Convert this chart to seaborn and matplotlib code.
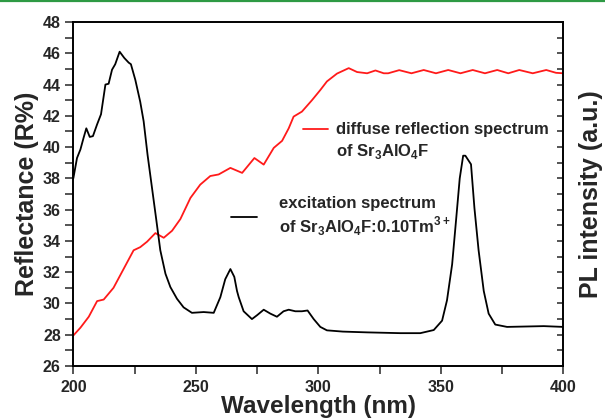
import pandas as pd
import matplotlib.pyplot as plt
import seaborn as sns
from matplotlib.lines import Line2D
from matplotlib.ticker import MultipleLocator, NullFormatter

# diffuse reflection spectrum of Sr3AlO4F (left axis, R%)
refl_nm = [200, 202.9, 206.3, 209.7, 212.4, 216.4, 220.5, 224.6, 227.3, 230.1,
           233.5, 236.9, 240.3, 243.7, 247.8, 251.8, 255.9, 259.3, 264.1, 268.9,
           273.9, 277.7, 281.8, 285.2, 287.9, 289.9, 293.3, 297.4, 300.8, 303.5,
           307.6, 312.4, 315.8, 319.9, 323.3, 326.7, 328.5, 333, 338, 343,
           348, 353, 358, 363, 368, 373, 377.5, 382, 387.5, 393, 397, 400]
refl_val = [27.95, 28.45, 29.15, 30.15, 30.25, 31.0, 32.2, 33.4, 33.6, 33.95,
            34.5, 34.2, 34.65, 35.4, 36.75, 37.6, 38.15, 38.25, 38.67, 38.35,
            39.3, 38.88, 39.95, 40.4, 41.2, 41.95, 42.27, 43.0, 43.65, 44.2,
            44.7, 45.05, 44.8, 44.72, 44.9, 44.72, 44.72, 44.92, 44.72, 44.93,
            44.72, 44.93, 44.72, 44.93, 44.72, 44.93, 44.72, 44.93, 44.72, 44.93, 44.75, 44.72]

# excitation spectrum of Sr3AlO4F:0.10Tm3+ (right axis, a.u.)
exc_nm = [200, 201.5, 202.9, 204.2, 205.3, 206.7, 208, 209.7, 211.3, 213.1,
          214.4, 215.8, 217.1, 218.9, 220.8, 222.6, 223.5, 225.3, 227.3, 228.7,
          230.3, 232.1, 233.9, 235.5, 237.6, 239.6, 242.3, 245, 248.4, 253.2,
          257.3, 260, 262, 264.1, 265.7, 266.8, 267.5, 269.5, 272.9, 275,
          277.7, 280.4, 283.1, 285.8, 287.9, 290.6, 293.3, 295.6, 298.1, 300.8,
          303.5, 310, 320, 333.5, 341.6, 347.1, 350.5, 352.5, 354.6, 356.3,
          357.7, 359.1, 360, 362.3, 363.7, 365.4, 367.5, 369.5, 372.2, 377,
          392, 400]
exc_val = [38.0, 39.3, 39.85, 40.6, 41.2, 40.65, 40.7, 41.45, 42.1, 44.0,
           44.05, 44.95, 45.3, 46.1, 45.7, 45.4, 45.3, 44.3, 42.9, 41.65,
           39.5, 37.4, 35.3, 33.4, 31.9, 31.05, 30.3, 29.75, 29.4, 29.45,
           29.4, 30.4, 31.55, 32.2, 31.7, 30.8, 30.4, 29.5, 29.0, 29.25,
           29.6, 29.35, 29.15, 29.5, 29.6, 29.5, 29.5, 29.55, 29.0, 28.5,
           28.28, 28.2, 28.15, 28.1, 28.1, 28.3, 28.9, 30.2, 32.5, 35.5,
           38.0, 39.45, 39.45, 38.9, 36.1, 33.4, 30.8, 29.35, 28.65, 28.5,
           28.55, 28.5]

refl = pd.DataFrame({'nm': refl_nm, 'R': refl_val})
exc = pd.DataFrame({'nm': exc_nm, 'I': exc_val})

sns.set_style('ticks')
plt.rcParams['font.family'] = ['Liberation Sans', 'DejaVu Sans']
plt.rcParams['font.weight'] = 'bold'
plt.rcParams['mathtext.fontset'] = 'custom'
plt.rcParams['mathtext.rm'] = 'Liberation Sans:bold'
plt.rcParams['mathtext.bf'] = 'Liberation Sans:bold'

fig = plt.figure(figsize=(6.05, 4.19), dpi=100)
ax = fig.add_axes([0.1212, 0.1265, 0.81, 0.821])
ax2 = ax.twinx()

sns.lineplot(data=refl, x='nm', y='R', ax=ax, color='#ff1a1a', lw=1.3, sort=False)
sns.lineplot(data=exc, x='nm', y='I', ax=ax2, color='black', lw=1.3, sort=False)

ax.set_xlim(200, 400)
ax.set_ylim(26, 48)
ax2.set_ylim(26, 48)

ax.xaxis.set_major_locator(MultipleLocator(50))
ax.xaxis.set_minor_locator(MultipleLocator(25))
ax.yaxis.set_major_locator(MultipleLocator(2))
ax.yaxis.set_minor_locator(MultipleLocator(1))
ax2.yaxis.set_major_locator(MultipleLocator(1))
ax2.yaxis.set_major_formatter(NullFormatter())

ax.tick_params(axis='both', which='both', direction='out', length=5.5, width=1.1,
               labelsize=11.5, top=False, right=False)
ax.tick_params(axis='x', which='major', pad=4.5)
ax2.tick_params(axis='y', which='both', direction='in', length=4, width=1.1)
for a in (ax, ax2):
    for s in a.spines.values():
        s.set_linewidth(1.2)
        s.set_color('black')
for lab in ax.get_xticklabels() + ax.get_yticklabels():
    lab.set_fontweight('bold')

ax.set_xlabel('Wavelength (nm)', fontsize=17.5, fontweight='bold', labelpad=0)
ax.set_ylabel('Reflectance (R%)', fontsize=18, fontweight='bold', labelpad=3)
ax2.set_ylabel('PL intensity (a.u.)', fontsize=18, fontweight='bold', labelpad=8)

blank = Line2D([], [], color='none')
red_h = Line2D([], [], color='#ff1a1a', lw=1.3)
blk_h = Line2D([], [], color='black', lw=1.3)

leg1 = ax.legend([red_h, blank], ['diffuse reflection spectrum', r'of Sr$_\mathbf{3}$AlO$_\mathbf{4}$F'],
                 loc='upper left', bbox_to_anchor=(0.469, 0.708), frameon=False,
                 fontsize=12, handlelength=1.5, handletextpad=0.48, labelspacing=0.25,
                 borderpad=0, borderaxespad=0)
leg2 = ax2.legend([blk_h], ['excitation spectrum\n' + r'of Sr$_\mathbf{3}$AlO$_\mathbf{4}$F:0.10Tm$^\mathbf{3+}$'],
                  loc='upper left', bbox_to_anchor=(0.322, 0.495), frameon=False,
                  fontsize=12, handlelength=1.55, handletextpad=1.3,
                  borderpad=0, borderaxespad=0)

fig.add_artist(Line2D([0, 1], [0.997, 0.997], transform=fig.transFigure,
                      color='#2e9a44', lw=1.6))

fig.savefig('out.png', dpi=100)
